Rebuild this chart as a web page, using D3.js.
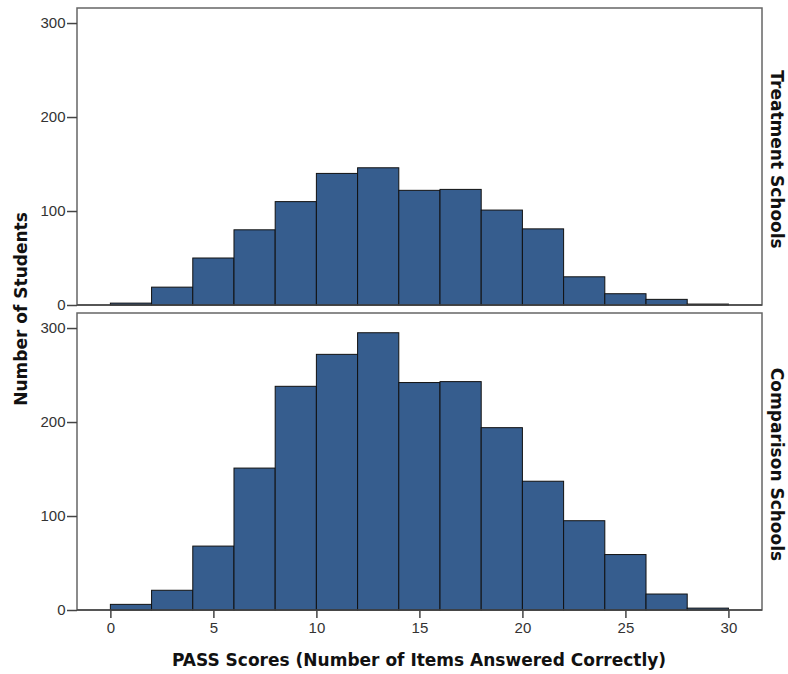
<!DOCTYPE html>
<html>
<head>
<meta charset="utf-8">
<script src="https://cdn.jsdelivr.net/npm/d3@7"></script>
<style>
  html, body { margin: 0; padding: 0; background: #fff; }
  svg { display: block; }
</style>
</head>
<body>
<svg id="chart" width="788" height="674"></svg>
<script>
// Bin edges (score ranges of width 2)
const binStarts = [0, 2, 4, 6, 8, 10, 12, 14, 16, 18, 20, 22, 24, 26, 28];
const binWidth = 2;
const treatmentCounts = [2, 19, 50, 80, 110, 140, 146, 122, 123, 101, 81, 30, 12, 6, 1];
const comparisonCounts = [6, 21, 68, 151, 238, 272, 295, 242, 243, 194, 137, 95, 59, 17, 2];
const panelLabels = ["Treatment Schools", "Comparison Schools"];
const xTicks = [0, 5, 10, 15, 20, 25, 30];
const yTicks = [0, 100, 200, 300];
const xLabel = "PASS Scores (Number of Items Answered Correctly)";
const yLabel = "Number of Students";

const svg = d3.select("#chart");
const left = 77, right = 762;
const panels = [
  { top: 8, bottom: 305, counts: treatmentCounts, label: panelLabels[0] },
  { top: 313, bottom: 610, counts: comparisonCounts, label: panelLabels[1] }
];

const x = d3.scaleLinear().domain([-1.62, 31.63]).range([left, right]);
const frameColor = "#666";
const fill = "#365d8e";
const boldFont = "DejaVu Sans, Verdana, sans-serif";
const tickFont = "Liberation Sans, Arial, sans-serif";

panels.forEach((p, i) => {
  const y = d3.scaleLinear().domain([0, 316]).range([p.bottom, p.top]);
  const g = svg.append("g");

  // frame
  g.append("rect")
    .attr("x", left).attr("y", p.top)
    .attr("width", right - left).attr("height", p.bottom - p.top)
    .attr("fill", "none").attr("stroke", frameColor).attr("stroke-width", 1.5);

  // bars
  g.selectAll("rect.bar")
    .data(binStarts.map((s, j) => ({ s, v: p.counts[j] })))
    .enter().append("rect")
    .attr("class", "bar")
    .attr("x", d => x(d.s))
    .attr("width", d => x(d.s + binWidth) - x(d.s))
    .attr("y", d => y(d.v))
    .attr("height", d => p.bottom - y(d.v))
    .attr("fill", fill)
    .attr("stroke", "#111")
    .attr("stroke-width", 1);

  // y axis
  const ya = g.append("g")
    .attr("transform", `translate(${left},0)`)
    .call(d3.axisLeft(y).tickValues(yTicks).tickSize(10).tickPadding(1.5).tickFormat(d3.format("d")));
  ya.select(".domain").remove();
  ya.selectAll("line").attr("stroke", "#444").attr("stroke-width", 1.5);
  ya.selectAll("text").attr("font-family", tickFont)
    .attr("font-size", 15).attr("fill", "#333");

  // x axis line (bottom)
  g.append("line")
    .attr("x1", left).attr("x2", right)
    .attr("y1", p.bottom).attr("y2", p.bottom)
    .attr("stroke", "#444").attr("stroke-width", 1.5);

  if (i === 1) {
    const xa = g.append("g")
      .attr("transform", `translate(0,${p.bottom})`)
      .call(d3.axisBottom(x).tickValues(xTicks).tickSize(8).tickPadding(4).tickFormat(d3.format("d")));
    xa.select(".domain").remove();
    xa.selectAll("line").attr("stroke", "#444").attr("stroke-width", 1.5);
    xa.selectAll("text").attr("font-family", tickFont)
      .attr("font-size", 15).attr("fill", "#333");
  }

  // panel label (rotated clockwise)
  svg.append("text")
    .attr("transform", `translate(771,${(p.top + p.bottom) / 2 + 3}) rotate(90)`)
    .attr("text-anchor", "middle")
    .attr("font-family", boldFont)
    .attr("font-weight", "bold")
    .attr("font-size", 17)
    .attr("fill", "#111")
    .text(p.label);
});

// axis titles
svg.append("text")
  .attr("x", 419).attr("y", 666)
  .attr("text-anchor", "middle")
  .attr("font-family", boldFont)
  .attr("font-weight", "bold")
  .attr("font-size", 17)
  .attr("fill", "#111")
  .text(xLabel);

svg.append("text")
  .attr("transform", "translate(27,309) rotate(-90)")
  .attr("text-anchor", "middle")
  .attr("font-family", boldFont)
  .attr("font-weight", "bold")
  .attr("font-size", 17)
  .attr("fill", "#111")
  .text(yLabel);
</script>
</body>
</html>
